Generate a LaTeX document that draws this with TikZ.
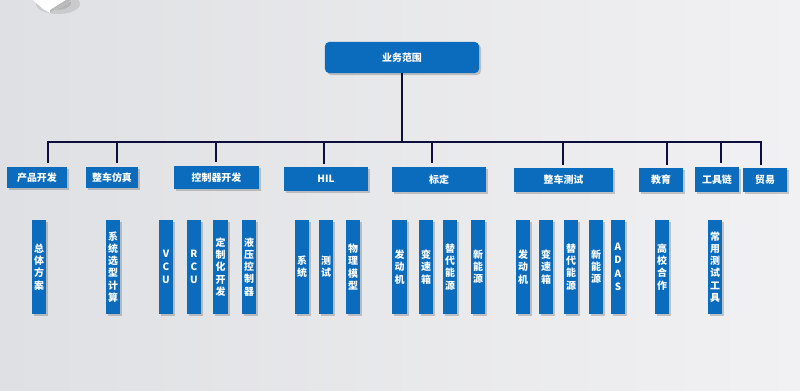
\documentclass[tikz,border=0pt]{standalone}
\usepackage{fontspec}
\newfontfamily\cjk{Noto Sans CJK SC}
\usetikzlibrary{positioning, calc, shadows}

\definecolor{boxblue}{HTML}{0B6CBD}
\definecolor{busnavy}{HTML}{0E0E3C}
\definecolor{bgleft}{HTML}{DFE0E3}
\definecolor{bgright}{HTML}{F1F1F3}

\begin{document}
\begin{tikzpicture}[
		x=0.03cm, y=-0.03cm,
		% --- ESTILOS ---
		box_shadow/.style={
			drop shadow={shadow xshift=0.06cm, shadow yshift=-0.06cm, opacity=0.28, fill=black!70}
		},
		root_box/.style={
			rectangle,
			fill=boxblue,
			rounded corners=3.5pt,
			minimum width=4.62cm,
			minimum height=0.93cm,
			text=white,
			font=\cjk\bfseries\fontsize{8.5}{10}\selectfont,
			box_shadow
		},
		cat_box/.style={
			rectangle,
			fill=boxblue,
			minimum height=0.71cm,
			inner sep=0pt,
			text=white,
			font=\cjk\bfseries\fontsize{8.5}{10}\selectfont,
			box_shadow
		},
		leaf_box/.style={
			rectangle,
			fill=boxblue,
			minimum width=0.44cm,
			minimum height=2.82cm,
			inner sep=0pt,
			align=center,
			text=white,
			font=\cjk\bfseries\fontsize{8.5}{10.4}\selectfont,
			box_shadow
		},
		bus_line/.style={
			line width=2pt,
			color=busnavy
		}
		]
		
		% --- FONDO ---
		\useasboundingbox (0,0) rectangle (800,391);
		\fill [left color=bgleft, right color=bgright] (0,0) rectangle (800,391);
		
		% adorno de la esquina
		\fill [black, opacity=0.10] (58,4) ellipse (22 and 10);
		\fill [black, opacity=0.10] (56,3) ellipse (15 and 7);
		\fill [white] (33,0) -- (43,9) -- (50,13) -- (72,0) -- cycle;
		\fill [gray!55] (50,13) -- (72,0) -- (66,0) -- (50,10) -- cycle;
		
		% --- RAIZ ---
		\node (root) [root_box] at (402,57.5) {业务范围};
		
		% --- CATEGORIAS ---
		\node (chanpin)   [cat_box, minimum width=1.80cm, minimum height=0.63cm] at (37,177.5) {产品开发};
		\node (fangzhen)  [cat_box, minimum width=1.56cm, minimum height=0.63cm] at (112,177.5) {整车仿真};
		\node (kongzhiqi) [cat_box, minimum width=2.55cm, minimum height=0.69cm] at (216.5,177.5) {控制器开发};
		\node (hil)       [cat_box, minimum width=2.52cm] at (326,179) {HIL};
		\node (biaoding)  [cat_box, minimum width=2.82cm, minimum height=0.75cm] at (439,179.5) {标定};
		\node (zhengche)  [cat_box, minimum width=2.97cm] at (563.5,180) {整车测试};
		\node (jiaoyu)    [cat_box, minimum width=1.32cm] at (661,180) {教育};
		\node (gongju)    [cat_box, minimum width=1.32cm, minimum height=0.75cm] at (717,179.5) {工具链};
		\node (maoyi)     [cat_box, minimum width=1.32cm] at (765,180) {贸易};
		
		% --- BUS Y BAJADAS ---
		\coordinate (t1) at (48,142);
		\coordinate (t2) at (117,142);
		\coordinate (t3) at (216,142);
		\coordinate (t4) at (324,142);
		\coordinate (t5) at (432,142);
		\coordinate (t6) at (563,142);
		\coordinate (t7) at (667,142);
		\coordinate (t8) at (721,142);
		\coordinate (t9) at (761,142);
		
		\draw [bus_line] (root.south) -- (root.south |- t1);
		\draw [bus_line, shorten <=0.1cm, shorten >=0.1cm] (t1 |- chanpin.north) -- (t1) -- (t9) -- (t9 |- maoyi.north);
		\draw [bus_line, shorten >=0.1cm] (t2) -- (t2 |- fangzhen.north);
		\draw [bus_line, shorten >=0.1cm] (t3) -- (t3 |- kongzhiqi.north);
		\draw [bus_line, shorten >=0.1cm] (t4) -- (t4 |- hil.north);
		\draw [bus_line, shorten >=0.1cm] (t5) -- (t5 |- biaoding.north);
		\draw [bus_line, shorten >=0.1cm] (t6) -- (t6 |- zhengche.north);
		\draw [bus_line, shorten >=0.1cm] (t7) -- (t7 |- jiaoyu.north);
		\draw [bus_line, shorten >=0.1cm] (t8) -- (t8 |- gongju.north);
		
		% --- HOJAS ---
		\node (zongti)    [leaf_box] at (39,267)  {总\\体\\方\\案};
		\node (xuanxing)  [leaf_box] at (113,267) {系\\统\\选\\型\\计\\算};
		
		\node (vcu)       [leaf_box] at (166,267) {V\\[1pt]C\\[1pt]U};
		\node (rcu)       [leaf_box] at (194,267) {R\\[1pt]C\\[1pt]U};
		\node (dingzhi)   [leaf_box] at (220.7,267) {定\\制\\化\\开\\发};
		\node (yeya)      [leaf_box] at (249,267) {液\\压\\控\\制\\器};
		
		\node (xitong)    [leaf_box] at (302,267) {系\\统};
		\node (ceshi)     [leaf_box] at (326,267) {测\\试};
		\node (wuli)      [leaf_box] at (353,267) {物\\理\\模\\型};
		
		\node (bd_fdj)    [leaf_box] at (399.5,267) {发\\动\\机};
		\node (bd_bsx)    [leaf_box] at (426,267) {变\\速\\箱};
		\node (bd_tdny)   [leaf_box] at (450,267) {替\\代\\能\\源};
		\node (bd_xny)    [leaf_box] at (478,267) {新\\能\\源};
		
		\node (zc_fdj)    [leaf_box] at (523,267) {发\\动\\机};
		\node (zc_bsx)    [leaf_box] at (546,267) {变\\速\\箱};
		\node (zc_tdny)   [leaf_box] at (571,267) {替\\代\\能\\源};
		\node (zc_xny)    [leaf_box] at (596,267) {新\\能\\源};
		\node (adas)      [leaf_box] at (618,267) {A\\[1pt]D\\[1pt]A\\[1pt]S};
		
		\node (gaoxiao)   [leaf_box] at (662,267) {高\\校\\合\\作};
		\node (changyong) [leaf_box] at (715,267) {常\\用\\测\\试\\工\\具};
		
	\end{tikzpicture}
\end{document}
